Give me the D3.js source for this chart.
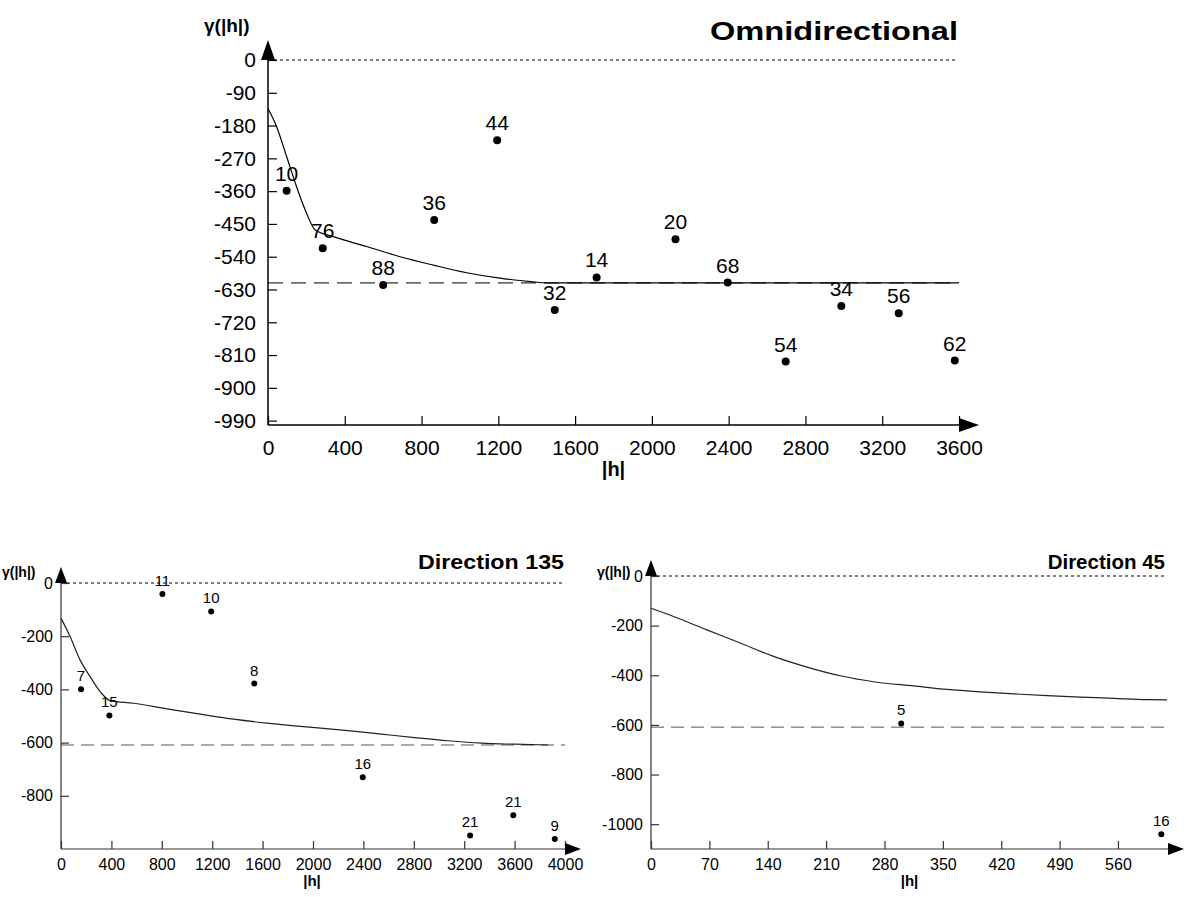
<!DOCTYPE html>
<html>
<head>
<meta charset="utf-8">
<script src="https://cdn.jsdelivr.net/npm/d3@7"></script>
<style>
  body { margin: 0; background: #fff; }
  text { font-family: "Liberation Sans", Arial, sans-serif; }
</style>
</head>
<body>
<div id="chart"></div>
<script>
// Omnidirectional experimental points
var omniLag   = [97, 285, 600, 866, 1194, 1494, 1712, 2123, 2395, 2697, 2987, 3286, 3578];
var omniGamma = [-359, -517, -618, -439, -220, -686, -597, -492, -611, -828, -675, -695, -825];
var omniCount = [10, 76, 88, 36, 44, 32, 14, 20, 68, 54, 34, 56, 62];
// Omnidirectional fitted model
var omniModelLag   = [0, 45, 97, 149, 201, 245, 340, 514, 688, 861, 1035, 1208, 1382, 1450, 3600];
var omniModelGamma = [-133, -183, -265, -348, -421, -466, -485, -512, -540, -563, -584, -599, -609, -612, -612];
var omniSill = -612;
var omniTicksX = [0, 400, 800, 1200, 1600, 2000, 2400, 2800, 3200, 3600];
var omniTicksY = [0, -90, -180, -270, -360, -450, -540, -630, -720, -810, -900, -990];

// Direction 135
var d135Lag   = [159, 384, 805, 1192, 1534, 2395, 3247, 3590, 3919];
var d135Gamma = [-399, -498, -41, -107, -378, -730, -949, -873, -962];
var d135Count = [7, 15, 11, 10, 8, 16, 21, 21, 9];
var d135ModelLag   = [0, 72, 151, 231, 310, 390, 575, 840, 1105, 1370, 1635, 1900, 2276, 2541, 2806, 3071, 3336, 3601, 3867];
var d135ModelGamma = [-132, -201, -289, -352, -408, -442, -452, -473, -493, -512, -527, -539, -555, -568, -581, -593, -602, -606, -609];
var d135Sill = -609;
var d135TicksX = [0, 400, 800, 1200, 1600, 2000, 2400, 2800, 3200, 3600, 4000];
var d135TicksY = [0, -200, -400, -600, -800];

// Direction 45
var d45Lag   = [300, 612];
var d45Gamma = [-594, -1041];
var d45Count = [5, 16];
var d45ModelLag   = [0, 27, 67, 107, 147, 187, 227, 267, 315, 355, 395, 435, 475, 515, 555, 595, 619];
var d45ModelGamma = [-130, -163, -217, -270, -324, -367, -402, -426, -443, -457, -467, -475, -482, -488, -493, -498, -499];
var d45Sill = -609;
var d45TicksX = [0, 70, 140, 210, 280, 350, 420, 490, 560];
var d45TicksY = [0, -200, -400, -600, -800, -1000];

var svg = d3.select("#chart").append("svg")
  .attr("width", 1186)
  .attr("height", 897);

function drawPanel(p) {
  var x = d3.scaleLinear().domain(p.xDomain).range(p.xRange);
  var y = d3.scaleLinear().domain(p.yDomain).range(p.yRange);
  var g = svg.append("g");
  var x0 = p.xRange[0], x1 = p.xRange[1];
  var yb = p.yRange[0], y0 = y(0);

  // reference lines: zero (dotted) and sill (dashed)
  g.append("line")
    .attr("x1", x0).attr("x2", p.lineEnd)
    .attr("y1", y0).attr("y2", y0)
    .style("stroke", "#000").style("stroke-width", 1)
    .style("stroke-dasharray", "3,3");
  g.append("line")
    .attr("x1", x0).attr("x2", p.lineEnd)
    .attr("y1", y(p.sill)).attr("y2", y(p.sill))
    .style("stroke", p.dashColor).style("stroke-width", 1)
    .style("stroke-dasharray", p.dash);

  // model curve
  var line = d3.line()
    .x(function(d) { return x(d[0]); })
    .y(function(d) { return y(d[1]); })
    .curve(d3.curveMonotoneX);
  g.append("path")
    .attr("d", line(d3.zip(p.modelLag, p.modelGamma)))
    .style("fill", "none")
    .style("stroke", p.curveColor)
    .style("stroke-width", 1.2);

  // axes (plain hyphen minus like the original)
  var fmt = function(d) { return String(d); };
  var yAxis = d3.axisLeft(y).tickValues(p.ticksY).tickSize(-p.tick).tickPadding(p.yPad).tickFormat(fmt);
  var gy = g.append("g").attr("transform", "translate(" + x0 + ",0)").call(yAxis);
  var xAxis = d3.axisBottom(x).tickValues(p.ticksX).tickSize(-p.tick).tickPadding(p.xPad).tickFormat(fmt);
  var gx = g.append("g").attr("transform", "translate(0," + yb + ")").call(xAxis);
  [gx, gy].forEach(function(a) {
    a.select(".domain").remove();
    a.selectAll(".tick line").style("stroke", p.axisColor).style("stroke-width", 1.2);
    a.selectAll(".tick text")
      .style("font-size", p.tickFont + "px")
      .style("font-family", "'Liberation Sans', Arial, sans-serif")
      .style("fill", "#000");
  });

  g.append("line")
    .attr("x1", x0).attr("x2", x0).attr("y1", yb).attr("y2", y0)
    .style("stroke", p.axisColor).style("stroke-width", p.axisWidth);
  g.append("line")
    .attr("x1", x0).attr("x2", x1).attr("y1", yb).attr("y2", yb)
    .style("stroke", p.axisColor).style("stroke-width", p.axisWidth);

  // arrow heads
  var a = p.arrow;
  g.append("path")
    .attr("d", "M" + (x0 - a.w) + "," + y0 + "L" + x0 + "," + (y0 - a.h) + "L" + (x0 + a.w) + "," + y0 + "Z")
    .style("fill", "#000");
  g.append("path")
    .attr("d", "M" + x1 + "," + (yb - a.w) + "L" + (x1 + a.h) + "," + yb + "L" + x1 + "," + (yb + a.w) + "Z")
    .style("fill", "#000");

  // points and pair counts
  var pts = d3.range(p.lag.length);
  g.selectAll(".pt").data(pts).enter().append("circle")
    .attr("cx", function(i) { return x(p.lag[i]); })
    .attr("cy", function(i) { return y(p.gamma[i]); })
    .attr("r", p.r)
    .style("fill", "#000");
  g.selectAll(".lbl").data(pts).enter().append("text")
    .attr("x", function(i) { return x(p.lag[i]); })
    .attr("y", function(i) { return y(p.gamma[i]) - p.lblOff; })
    .attr("text-anchor", "middle")
    .style("font-size", p.lblFont + "px")
    .text(function(i) { return p.count[i]; });

  // titles
  var t = g.append("text")
    .attr("x", p.title.x).attr("y", p.title.y)
    .attr("text-anchor", "end")
    .style("font-size", p.title.size + "px")
    .style("font-weight", "bold")
    .text(p.title.text);
  if (p.title.len) t.attr("textLength", p.title.len).attr("lengthAdjust", "spacingAndGlyphs");

  g.append("text")
    .attr("x", p.ylab.x).attr("y", p.ylab.y)
    .style("font-size", p.ylab.size + "px")
    .style("font-weight", "bold")
    .text("γ(|h|)");
  g.append("text")
    .attr("x", (x0 + x1) / 2 - p.xlabShift).attr("y", p.xlab.y)
    .attr("text-anchor", "middle")
    .style("font-size", p.xlab.size + "px")
    .style("font-weight", "bold")
    .text("|h|");
}

drawPanel({
  lag: omniLag, gamma: omniGamma, count: omniCount,
  modelLag: omniModelLag, modelGamma: omniModelGamma, sill: omniSill,
  ticksX: omniTicksX, ticksY: omniTicksY,
  xDomain: [0, 3600], xRange: [268, 959],
  yDomain: [-1002, 0], yRange: [425, 60],
  lineEnd: 958, dash: "15,8", dashColor: "#000", curveColor: "#000",
  axisColor: "#000", axisWidth: 1.5, tick: 9, yPad: 12, xPad: 15,
  tickFont: 21, r: 4, lblOff: 10, lblFont: 21,
  arrow: { w: 7, h: 20 },
  title: { text: "Omnidirectional", x: 958, y: 40, size: 26, len: 248 },
  ylab: { x: 204, y: 32, size: 19 },
  xlab: { y: 476, size: 20 }, xlabShift: 0
});

drawPanel({
  lag: d135Lag, gamma: d135Gamma, count: d135Count,
  modelLag: d135ModelLag, modelGamma: d135ModelGamma, sill: d135Sill,
  ticksX: d135TicksX, ticksY: d135TicksY,
  xDomain: [0, 4000], xRange: [61, 565],
  yDomain: [-1000, 0], yRange: [849, 583],
  lineEnd: 565, dash: "13,7", dashColor: "#555", curveColor: "#222",
  axisColor: "#333", axisWidth: 1.2, tick: 8, yPad: 8, xPad: 10,
  tickFont: 16, r: 3, lblOff: 8, lblFont: 15,
  arrow: { w: 6, h: 16 },
  title: { text: "Direction 135", x: 564, y: 569, size: 20.5, len: 146 },
  ylab: { x: 2, y: 577, size: 14 },
  xlab: { y: 886, size: 15 }, xlabShift: 1
});

drawPanel({
  lag: d45Lag, gamma: d45Gamma, count: d45Count,
  modelLag: d45ModelLag, modelGamma: d45ModelGamma, sill: d45Sill,
  ticksX: d45TicksX, ticksY: d45TicksY,
  xDomain: [0, 620], xRange: [651, 1168],
  yDomain: [-1100, 0], yRange: [849, 576],
  lineEnd: 1165, dash: "13,7", dashColor: "#555", curveColor: "#222",
  axisColor: "#333", axisWidth: 1.2, tick: 8, yPad: 8, xPad: 10,
  tickFont: 16, r: 3, lblOff: 8, lblFont: 15,
  arrow: { w: 6, h: 16 },
  title: { text: "Direction 45", x: 1165, y: 569, size: 20.5 },
  ylab: { x: 597, y: 577, size: 14 },
  xlab: { y: 886, size: 15 }, xlabShift: 0
});
</script>
</body>
</html>
